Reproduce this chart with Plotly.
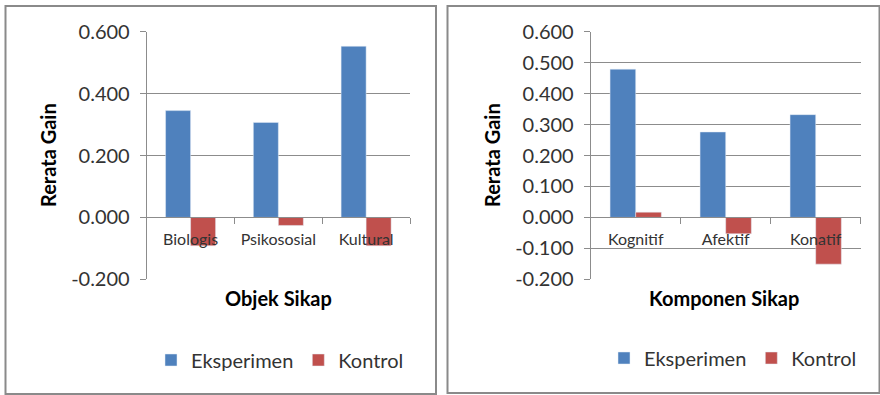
import plotly.graph_objects as go

W, H = 880, 395

# Left panel: attitude objects
objek = ["Biologis", "Psikososial", "Kultural"]
objek_eksperimen = [0.345, 0.307, 0.553]
objek_kontrol = [-0.092, -0.026, -0.092]

# Right panel: attitude components
komponen = ["Kognitif", "Afektif", "Konatif"]
komponen_eksperimen = [0.479, 0.276, 0.332]
komponen_kontrol = [0.017, -0.053, -0.151]

# Value-axis ticks (plain hyphen for negatives)
ticks_left = [-0.2, 0.0, 0.2, 0.4, 0.6]
ticks_right = [-0.2, -0.1, 0.0, 0.1, 0.2, 0.3, 0.4, 0.5, 0.6]

BLUE = "#4F81BD"
RED = "#C0504D"
GRID = "#8C8C8C"
TXT = "#333333"
FONT = "Lato, 'Open Sans', sans-serif"


def px(x):
    return x / W


def py(y):
    return 1 - y / H


def labels(vals):
    return [f"{v:.3f}".replace("\u2212", "-") for v in vals]


y_dom = [py(279.3), py(31.7)]
zero_pos = y_dom[0] + 0.25 * (y_dom[1] - y_dom[0])

fig = go.Figure()

fig.add_trace(go.Bar(x=objek, y=objek_eksperimen, name="Eksperimen",
                     marker_color=BLUE, xaxis="x", yaxis="y", legend="legend"))
fig.add_trace(go.Bar(x=objek, y=objek_kontrol, name="Kontrol",
                     marker_color=RED, xaxis="x", yaxis="y", legend="legend"))
fig.add_trace(go.Bar(x=komponen, y=komponen_eksperimen, name="Eksperimen",
                     marker_color=BLUE, xaxis="x2", yaxis="y2", legend="legend2"))
fig.add_trace(go.Bar(x=komponen, y=komponen_kontrol, name="Kontrol",
                     marker_color=RED, xaxis="x2", yaxis="y2", legend="legend2"))

xcommon = dict(
    anchor="free", position=zero_pos, showline=True, linecolor=GRID, linewidth=1,
    ticks="outside", ticklen=6, tickcolor=GRID, tickson="boundaries",
    tickfont=dict(size=16, color=TXT, family=FONT), showgrid=False,
    ticklabelstandoff=7, zeroline=False, automargin=False,
)
ycommon = dict(
    range=[-0.2, 0.6], showline=True, linecolor=GRID, linewidth=1,
    ticks="outside", ticklen=6, tickcolor=GRID, tickmode="array",
    tickfont=dict(size=20, color=TXT, family=FONT), showgrid=True,
    gridcolor=GRID, gridwidth=1, zeroline=False, automargin=False,
    ticklabelstandoff=6,
)

title_font = dict(size=20, color="#000000", family=FONT)
legend_font = dict(size=20, color=TXT, family=FONT)


def title_note(text, x, y, angle=0):
    return dict(text=text, x=px(x), y=py(y), xref="paper", yref="paper",
                xanchor="center", yanchor="middle", textangle=angle,
                showarrow=False, font=title_font)


fig.update_layout(
    width=W, height=H, margin=dict(l=0, r=0, t=0, b=0, autoexpand=False),
    paper_bgcolor="white", plot_bgcolor="white",
    barmode="group", bargap=0.43, bargroupgap=0,
    font=dict(family=FONT, color=TXT),
    xaxis=dict(domain=[px(146.7), px(410)], **xcommon),
    yaxis=dict(domain=y_dom, anchor="x", tickvals=ticks_left,
               ticktext=labels(ticks_left), **ycommon),
    xaxis2=dict(domain=[px(590.7), px(860.7)], **xcommon),
    yaxis2=dict(domain=y_dom, anchor="x2", tickvals=ticks_right,
                ticktext=labels(ticks_right), **ycommon),
    legend=dict(orientation="h", x=px(151), y=py(360), xanchor="left", yanchor="middle",
                font=legend_font, bgcolor="rgba(0,0,0,0)"),
    legend2=dict(orientation="h", x=px(604), y=py(358), xanchor="left", yanchor="middle",
                 font=legend_font, bgcolor="rgba(0,0,0,0)"),
    annotations=[
        title_note("<b>Rerata Gain</b>", 48, 155, -90),
        title_note("<b>Rerata Gain</b>", 492, 155, -90),
        title_note("<b>Objek Sikap</b>", 278, 298),
        title_note("<b>Komponen Sikap</b>", 724, 298),
    ],
    shapes=[
        dict(type="rect", xref="paper", yref="paper", x0=px(5.5), x1=px(436), y0=py(394),
             y1=py(6), line=dict(color="#8A8A8A", width=2)),
        dict(type="rect", xref="paper", yref="paper", x0=px(447.5), x1=px(879.5), y0=py(393),
             y1=py(6), line=dict(color="#8A8A8A", width=2)),
    ],
)

fig.write_html("out.html")
